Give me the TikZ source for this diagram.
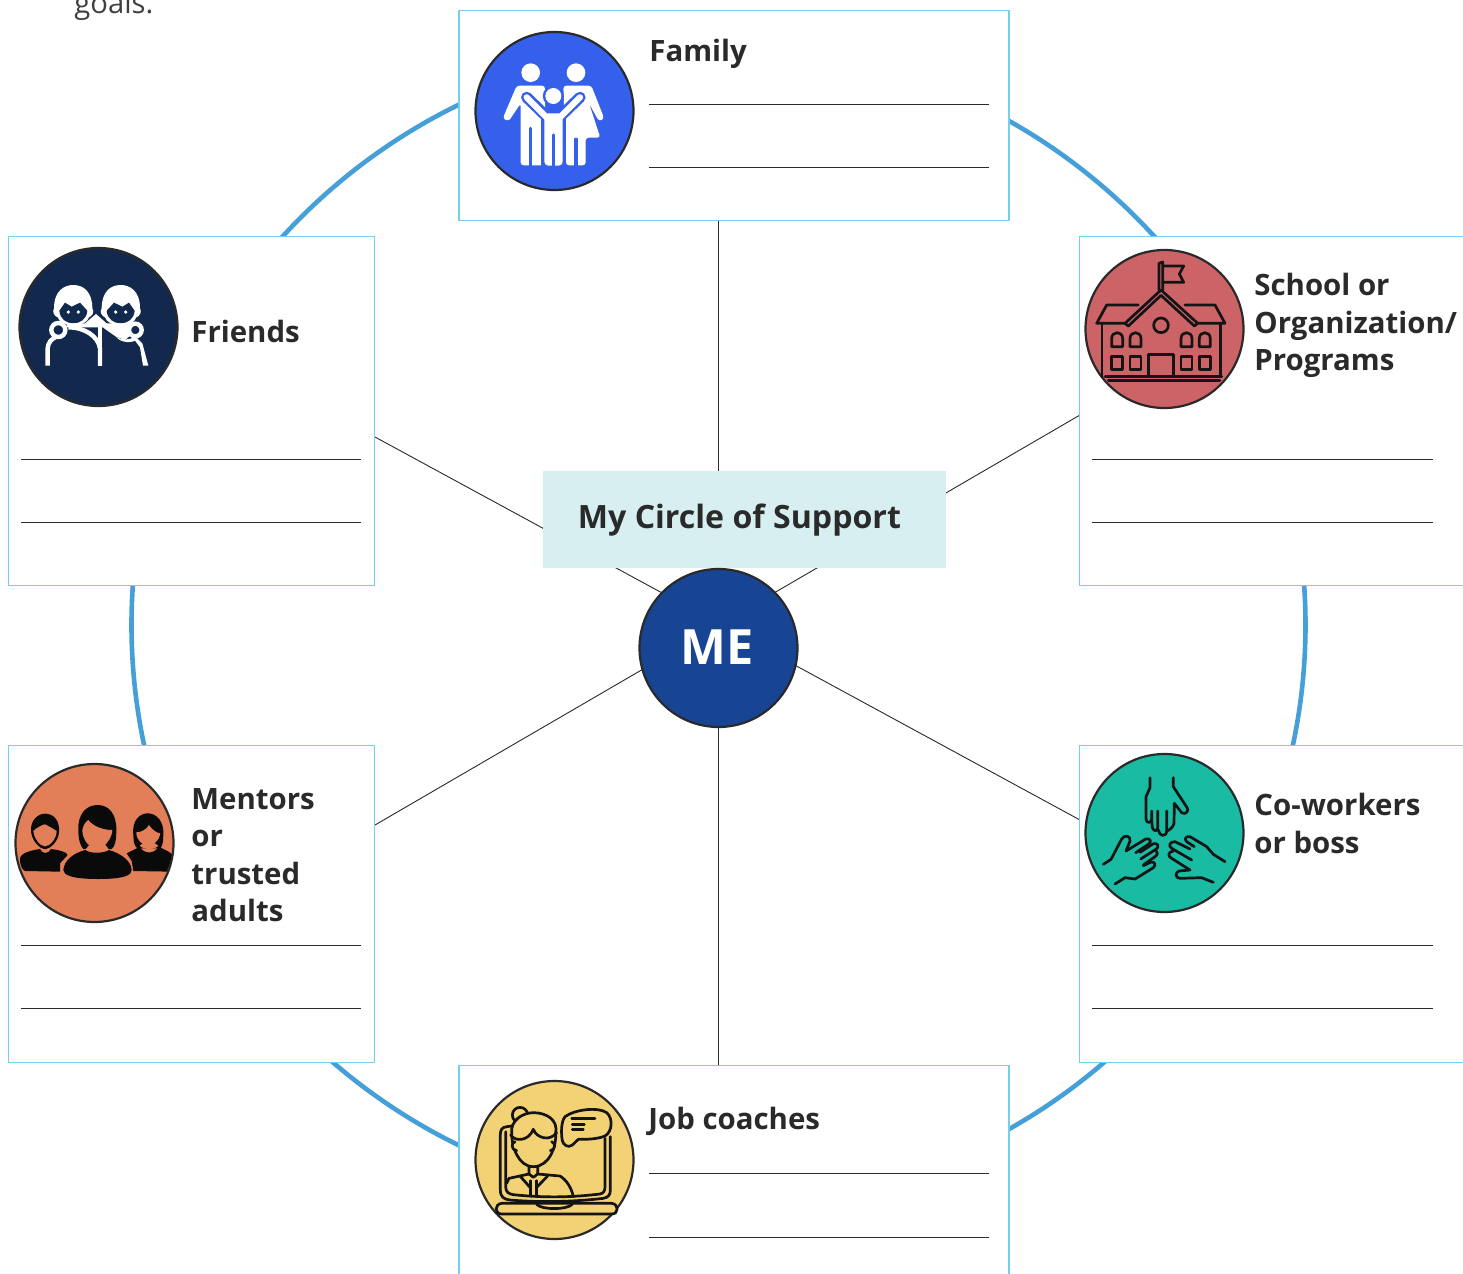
\documentclass[tikz,border=0pt]{standalone}
\usepackage{fontspec}
\setmainfont{Open Sans}
\definecolor{ink}{HTML}{2A2A2A}
\definecolor{icoink}{HTML}{141414}
\definecolor{boxline}{HTML}{74CFEC}
\definecolor{ringblue}{HTML}{459FD8}
\definecolor{paleteal}{HTML}{D8EFF1}
\definecolor{meblue}{HTML}{174593}
\definecolor{famblue}{HTML}{3560EB}
\definecolor{frnavy}{HTML}{12294D}
\definecolor{schred}{HTML}{CC6367}
\definecolor{menorange}{HTML}{E27F58}
\definecolor{cowteal}{HTML}{19BBA3}
\definecolor{jobyellow}{HTML}{F3D175}
\tikzset{
  cardbox/.style={draw=boxline,line width=.7pt,fill=white,inner sep=0pt,anchor=north west},
  spoke/.style={draw=ink,line width=.45pt},
  writeline/.style={draw=ink,line width=.5pt},
  iconcircle/.style={circle,draw=ink,line width=1.1pt,minimum size=79pt,inner sep=0pt},
  cardlabel/.style={inner sep=0pt,anchor=north west,align=left,text=ink,font=\bfseries\fontsize{14.7}{18.7}\selectfont},
  iconstroke/.style={draw=#1,line width=1.35pt,line cap=round,line join=round},
  iconspace/.style={x=.16667pt,y=-.16667pt},
}
\begin{document}
\begin{tikzpicture}[x=.5pt,y=-.5pt]
\useasboundingbox (0,0) rectangle (1463,1274);
\fill[white] (0,0) rectangle (1463,1274);
\node[inner sep=0pt,anchor=base west,text=ink!90,font=\fontsize{14.6}{16}\selectfont] (goals) at (74,13) {goals.};
% ring
\draw[ringblue,line width=2.3pt] (718.5,625) ellipse [x radius=587,y radius=580];
% spoke end points on the cards
\coordinate (famS) at (718.5,220);
\coordinate (jobN) at (718.5,1065);
\coordinate (friE) at (375,437);
\coordinate (cowW) at (1080,820);
\coordinate (schW) at (1080,415);
\coordinate (menE) at (375,825);
\draw[spoke] (famS) -- (jobN);
\draw[spoke] (friE) -- (cowW);
\draw[spoke] (schW) -- (menE);
% cards
\node[cardbox,minimum width=275pt,minimum height=105pt] (famcard) at (458.3,9.5) {};
\node[cardbox,minimum width=183pt,minimum height=174.5pt] (fricard) at (8,235.7) {};
\node[cardbox,minimum width=195pt,minimum height=174.5pt] (schcard) at (1079,235.7) {};
\node[cardbox,minimum width=183pt,minimum height=158.5pt] (mencard) at (8,744.7) {};
\node[cardbox,minimum width=195pt,minimum height=158.5pt] (cowcard) at (1079,744.7) {};
\node[cardbox,minimum width=275pt,minimum height=110pt] (jobcard) at (458.3,1064.7) {};
% centre
\node[fill=paleteal,inner sep=0pt,minimum width=201.5pt,minimum height=48.5pt,anchor=north west] (title) at (543,471) {};
\node[inner sep=0pt,anchor=base west,text=ink,font=\bfseries\fontsize{16.05}{20}\selectfont] (titletext) at (577.5,528) {My Circle of Support};
\node[circle,draw=ink,line width=1.1pt,fill=meblue,minimum size=79pt,inner sep=0pt,text=white,font=\bfseries\fontsize{24.3}{28}\selectfont] (me) at (718.5,648) {\raisebox{1.3pt}{\hspace*{-1.2pt}ME}};
% write-on lines
\foreach \xa/\xb/\ya/\yb/\n in {649/989/104/167/fam,21/361/459/522/fri,1092/1433/459/522/sch,21/361/945/1008/men,1092/1433/945/1008/cow,649/989/1173/1237/job}{
  \coordinate (\n L1a) at (\xa,\ya); \coordinate (\n L1b) at (\xb,\ya);
  \coordinate (\n L2a) at (\xa,\yb); \coordinate (\n L2b) at (\xb,\yb);
  \draw[writeline] (\n L1a) -- (\n L1b);
  \draw[writeline] (\n L2a) -- (\n L2b);
}
% labels
\node[cardlabel] (famlabel) at (649,39) {Family};
\node[cardlabel] (frilabel) at (191,320) {Friends};
\node[cardlabel] (schlabel) at (1254,273) {School or\\Organization/\\Programs};
\node[cardlabel] (menlabel) at (191,788) {Mentors\\or\\trusted\\adults};
\node[cardlabel] (cowlabel) at (1254,793) {Co-workers\\or boss};
\node[cardlabel] (joblabel) at (648,1107) {Job coaches};
% icon discs
\node[iconcircle,fill=famblue] (famdisc) at (554.5,111) {};
\node[iconcircle,fill=frnavy] (fridisc) at (98.5,327) {};
\node[iconcircle,fill=schred] (schdisc) at (1164.5,329) {};
\node[iconcircle,fill=menorange] (mendisc) at (94.5,843) {};
\node[iconcircle,fill=cowteal] (cowdisc) at (1164.5,833) {};
\node[iconcircle,fill=jobyellow] (jobdisc) at (554.5,1160) {};
% ---- family icon
\begin{scope}[shift={(465,20)},iconspace]
  \fill[white] (197,158) circle (28);
  \fill[white] (333,158) circle (28);
  \fill[white,rounded corners=1.5pt] (155,197) -- (240,197) -- (240,436) -- (167,436) -- (167,250) -- (131,304) -- (113,296) -- cycle;
  \fill[white,rounded corners=1.5pt] (295,197) -- (379,197) -- (418,296) -- (402,304) -- (372,250) -- (406,353) -- (362,353) -- (362,436) -- (303,436) -- cycle;
  \draw[famblue,line width=1.7pt,line cap=round] (197,325) -- (197,445);
  \draw[famblue,line width=1.7pt,line cap=round] (333,358) -- (333,445);
  \fill[famblue] (228,275) rectangle (303,445);
  \draw[famblue,line width=5.6pt,line cap=round,line join=round] (185,232) -- (245,290) -- (285,290) -- (345,232);
  \draw[famblue,line width=1.5pt,fill=white] (265,228) circle (27);
  \draw[white,line width=3.1pt,line cap=round,line join=round] (185,232) -- (245,292) -- (285,292) -- (345,232);
  \fill[white,rounded corners=2pt] (238,280) rectangle (293,437);
  \draw[famblue,line width=1.7pt,line cap=round] (265,345) -- (265,445);
  \fill[white] (265,228) circle (24);
\end{scope}
% ---- friends icon
\begin{scope}[shift={(10,240)},iconspace]
  \foreach \cx/\fl in {190/1,332/-1}{
    \begin{scope}[shift={(\cx,0)},xscale=\fl]
      \fill[white] (-58,205) .. controls (-58,150) and (-25,135) .. (0,135) .. controls (30,135) and (57,155) .. (57,205) .. controls (64,215) and (57,228) .. (47,232) .. controls (37,264) and (-37,264) .. (-47,232) .. controls (-58,228) and (-64,215) .. (-58,205) -- cycle;
      \fill[frnavy] (-42,212) -- (-25,188) -- (-5,200) -- (20,188) -- (42,212) .. controls (40,238) and (20,250) .. (0,250) .. controls (-20,250) and (-40,238) .. (-42,212) -- cycle;
      \fill[white] (-15,216) circle (5.5);
      \fill[white] (15,216) circle (5.5);
    \end{scope}
  }
  \fill[white] (170,250) -- (225,250) -- (258,222) -- (290,250) -- (375,250) -- (375,275) -- (345,300) -- (318,290) -- (278,262) -- (270,262) -- (170,262) -- cycle;
  \draw[white,line width=2.2pt] (270,377) -- (270,325) .. controls (265,290) and (225,262) .. (175,262);
  \draw[white,line width=2.2pt] (270,377) -- (270,255);
  \draw[white,line width=2.2pt] (113,377) -- (113,325) .. controls (113,310) and (125,295) .. (140,290);
  \draw[white,line width=2.2pt,fill=frnavy] (145,270) circle (21);
  \fill[white] (318,290) .. controls (335,302) and (365,300) .. (375,288) -- (397,310) -- (415,377) -- (399,377) -- (390,322) -- (375,302) .. controls (360,310) and (330,307) .. (318,290) -- cycle;
  \draw[white,line width=2.2pt,fill=frnavy] (376,270) circle (19);
\end{scope}
% ---- school icon
\begin{scope}[shift={(1075,240)},iconspace]
  \draw[iconstroke=icoink] (252,150) -- (252,70) -- (263,66) -- (263,150);
  \draw[iconstroke=icoink] (263,78) -- (326,78) -- (313,102) -- (326,127) -- (263,127);
  \draw[iconstroke=icoink] (150,250) -- (258,150) -- (368,250) -- (358,258) -- (258,166) -- (160,258) -- cycle;
  \draw[iconstroke=icoink] (190,195) -- (95,195) -- (65,250) -- (150,250);
  \draw[iconstroke=icoink] (330,195) -- (420,195) -- (450,250) -- (365,250);
  \draw[iconstroke=icoink] (81,250) -- (81,410);
  \draw[iconstroke=icoink] (437,250) -- (437,410);
  \draw[iconstroke=icoink] (90,410) -- (440,410);
  \draw[iconstroke=icoink] (100,422) -- (435,422);
  \draw[iconstroke=icoink] (258,256) circle (22);
  \foreach \wx in {110,165,318,373}{
    \draw[iconstroke=icoink] (\wx,320) -- (\wx,296) .. controls (\wx,272) and (\wx+33,272) .. (\wx+33,296) -- (\wx+33,320) -- cycle;
    \draw[iconstroke=icoink] (\wx,350) rectangle (\wx+33,388);
  }
  \draw[iconstroke=icoink] (221,410) -- (221,344) -- (296,344) -- (296,410);
\end{scope}
% ---- mentors icon
\begin{scope}[shift={(5,755)},iconspace]
  \definecolor{pp}{HTML}{0A0A0A}
  \begin{scope}
    \clip (266,258) circle (238);
    % left man
    \fill[pp] (45,310) .. controls (48,292) and (85,285) .. (105,282) .. controls (112,298) and (130,298) .. (138,282) .. controls (160,285) and (185,290) .. (188,300) -- (165,325) -- (165,350) -- (60,348) .. controls (50,345) and (44,325) .. (45,310) -- cycle;
    \fill[pp] (78,230) .. controls (75,195) and (100,176) .. (120,176) .. controls (145,176) and (165,195) .. (162,232) .. controls (160,260) and (135,282) .. (120,282) .. controls (105,282) and (82,260) .. (78,230) -- cycle;
    \fill[menorange] (85,228) .. controls (95,218) and (110,210) .. (120,208) .. controls (135,215) and (145,222) .. (155,228) .. controls (155,250) and (135,274) .. (120,274) .. controls (105,274) and (87,250) .. (85,228) -- cycle;
    % right woman
    \fill[pp] (365,295) .. controls (385,285) and (400,278) .. (405,275) .. controls (415,298) and (450,298) .. (460,275) .. controls (475,282) and (495,290) .. (503,300) -- (503,350) -- (385,348) -- (380,318) -- cycle;
    \fill[pp] (385,240) .. controls (380,195) and (405,175) .. (428,175) .. controls (455,175) and (478,200) .. (475,240) .. controls (475,262) and (470,285) .. (462,280) -- (400,280) .. controls (390,280) and (385,262) .. (385,240) -- cycle;
    \fill[menorange] (394,232) .. controls (410,232) and (425,222) .. (432,210) .. controls (440,222) and (455,235) .. (466,235) .. controls (464,255) and (445,272) .. (430,272) .. controls (412,272) and (394,255) .. (394,232) -- cycle;
    \fill[menorange] (404,272) .. controls (415,285) and (450,285) .. (460,272) -- (445,262) -- (418,262) -- cycle;
    % middle woman
    \fill[pp] (175,345) .. controls (178,315) and (205,295) .. (240,285) .. controls (252,310) and (298,310) .. (312,285) .. controls (345,295) and (378,315) .. (380,345) .. controls (380,360) and (360,372) .. (280,372) .. controls (200,372) and (175,360) .. (175,345) -- cycle;
    \fill[pp] (220,225) .. controls (218,175) and (245,150) .. (278,150) .. controls (310,150) and (335,175) .. (334,225) .. controls (334,255) and (330,275) .. (320,282) -- (235,282) .. controls (225,272) and (220,250) .. (220,225) -- cycle;
    \fill[menorange] (232,225) .. controls (235,210) and (242,200) .. (250,195) .. controls (265,215) and (295,225) .. (322,225) .. controls (322,250) and (295,282) .. (277,282) .. controls (255,282) and (232,255) .. (232,225) -- cycle;
    \fill[menorange] (240,284) .. controls (252,302) and (298,302) .. (312,284) -- (300,268) -- (255,268) -- cycle;
    \fill[pp] (241,285) .. controls (255,296) and (295,296) .. (312,285) -- (314,287) .. controls (298,312) and (255,312) .. (239,287) -- cycle;
  \end{scope}
\end{scope}
% ---- co-workers icon
\begin{scope}[shift={(1075,745)},iconspace]
  \draw[iconstroke=icoink] (225,98) -- (225,128) -- (213,155) -- (213,222) .. controls (213,236) and (230,236) .. (230,222) -- (230,198);
  \draw[iconstroke=icoink] (230,222) -- (232,248) .. controls (236,260) and (248,260) .. (248,248) -- (248,198);
  \draw[iconstroke=icoink] (250,255) .. controls (252,274) and (274,278) .. (275,258) -- (275,198);
  \draw[iconstroke=icoink] (275,258) .. controls (285,255) and (295,245) .. (297,235) -- (298,175) -- (320,203) .. controls (332,212) and (345,195) .. (335,186) -- (308,145) -- (295,125) -- (295,98);
  \draw[iconstroke=icoink] (85,358) -- (108,343) -- (140,282) .. controls (148,268) and (168,272) .. (165,288) -- (153,318) -- (212,282) .. controls (225,278) and (232,290) .. (220,298) -- (182,323);
  \draw[iconstroke=icoink] (195,322) -- (235,296) .. controls (248,292) and (254,305) .. (244,312) -- (197,342);
  \draw[iconstroke=icoink] (240,315) .. controls (250,322) and (248,330) .. (240,335) -- (205,360);
  \draw[iconstroke=icoink] (205,362) -- (228,351) .. controls (240,350) and (244,360) .. (235,368) -- (180,402) -- (150,398) -- (120,417);
  \draw[iconstroke=icoink] (450,350) -- (415,328) -- (395,305) -- (345,275) .. controls (330,272) and (326,285) .. (338,292) -- (358,305);
  \draw[iconstroke=icoink] (345,312) -- (300,290) .. controls (285,290) and (278,302) .. (290,310) -- (350,345);
  \draw[iconstroke=icoink] (295,318) .. controls (278,320) and (278,335) .. (290,340) -- (345,375) -- (312,378) .. controls (300,382) and (300,400) .. (315,400) -- (380,398) -- (415,412);
\end{scope}
% ---- job coach icon
\begin{scope}[shift={(465,1070)},iconspace]
  \draw[iconstroke=icoink] (140,168) -- (125,170) .. controls (110,172) and (106,180) .. (106,195) -- (106,360) .. controls (106,382) and (118,388) .. (135,390) .. controls (230,398) and (330,395) .. (415,385) .. controls (430,382) and (436,375) .. (436,360) -- (436,200);
  \draw[iconstroke=icoink] (122,185) -- (122,350) .. controls (122,365) and (130,372) .. (145,374) .. controls (240,384) and (320,382) .. (405,372) .. controls (416,370) and (420,362) .. (420,350) -- (420,205);
  \draw[iconstroke=icoink,fill=jobyellow] (110,400) -- (440,400) .. controls (462,402) and (462,432) .. (440,432) -- (110,432) .. controls (88,432) and (88,402) .. (110,400) -- cycle;
  \draw[iconstroke=icoink] (215,403) .. controls (230,420) and (305,420) .. (322,403);
  \draw[iconstroke=icoink,fill=jobyellow] (300,140) .. controls (330,118) and (400,110) .. (425,128) .. controls (445,145) and (442,185) .. (420,198) .. controls (395,208) and (365,208) .. (340,208) -- (322,225) .. controls (310,235) and (295,225) .. (292,212) .. controls (288,190) and (288,155) .. (300,140) -- cycle;
  \draw[iconstroke=icoink] (320,145) -- (390,145);
  \draw[iconstroke=icoink] (322,163) -- (358,163);
  \draw[iconstroke=icoink] (322,178) -- (355,178);
  \draw[iconstroke=icoink,fill=jobyellow] (165,135) circle (23);
  \draw[iconstroke=icoink,fill=jobyellow] (140,190) .. controls (135,150) and (175,128) .. (205,128) .. controls (245,128) and (280,150) .. (272,190) .. controls (275,225) and (255,290) .. (205,290) .. controls (160,290) and (140,230) .. (140,190) -- cycle;
  \draw[iconstroke=icoink] (137,195) .. controls (150,215) and (190,215) .. (205,178) .. controls (215,205) and (255,215) .. (275,188);
  \draw[iconstroke=icoink,fill=jobyellow] (150,215) .. controls (138,218) and (138,240) .. (155,242);
  \draw[iconstroke=icoink,fill=jobyellow] (260,215) .. controls (272,218) and (272,240) .. (256,242);
  \draw[iconstroke=icoink] (192,290) -- (192,312) -- (132,325);
  \draw[iconstroke=icoink] (218,290) -- (218,312) -- (285,318) .. controls (305,330) and (320,355) .. (325,380);
  \draw[iconstroke=icoink] (192,312) -- (205,322) -- (218,312);
  \draw[iconstroke=icoink] (165,318) -- (195,352);
  \draw[iconstroke=icoink] (248,318) -- (215,352);
  \draw[iconstroke=icoink] (197,332) -- (197,378);
  \draw[iconstroke=icoink] (215,332) -- (215,378);
  \draw[iconstroke=icoink] (132,325) -- (125,340);
\end{scope}
\end{tikzpicture}
\end{document}
